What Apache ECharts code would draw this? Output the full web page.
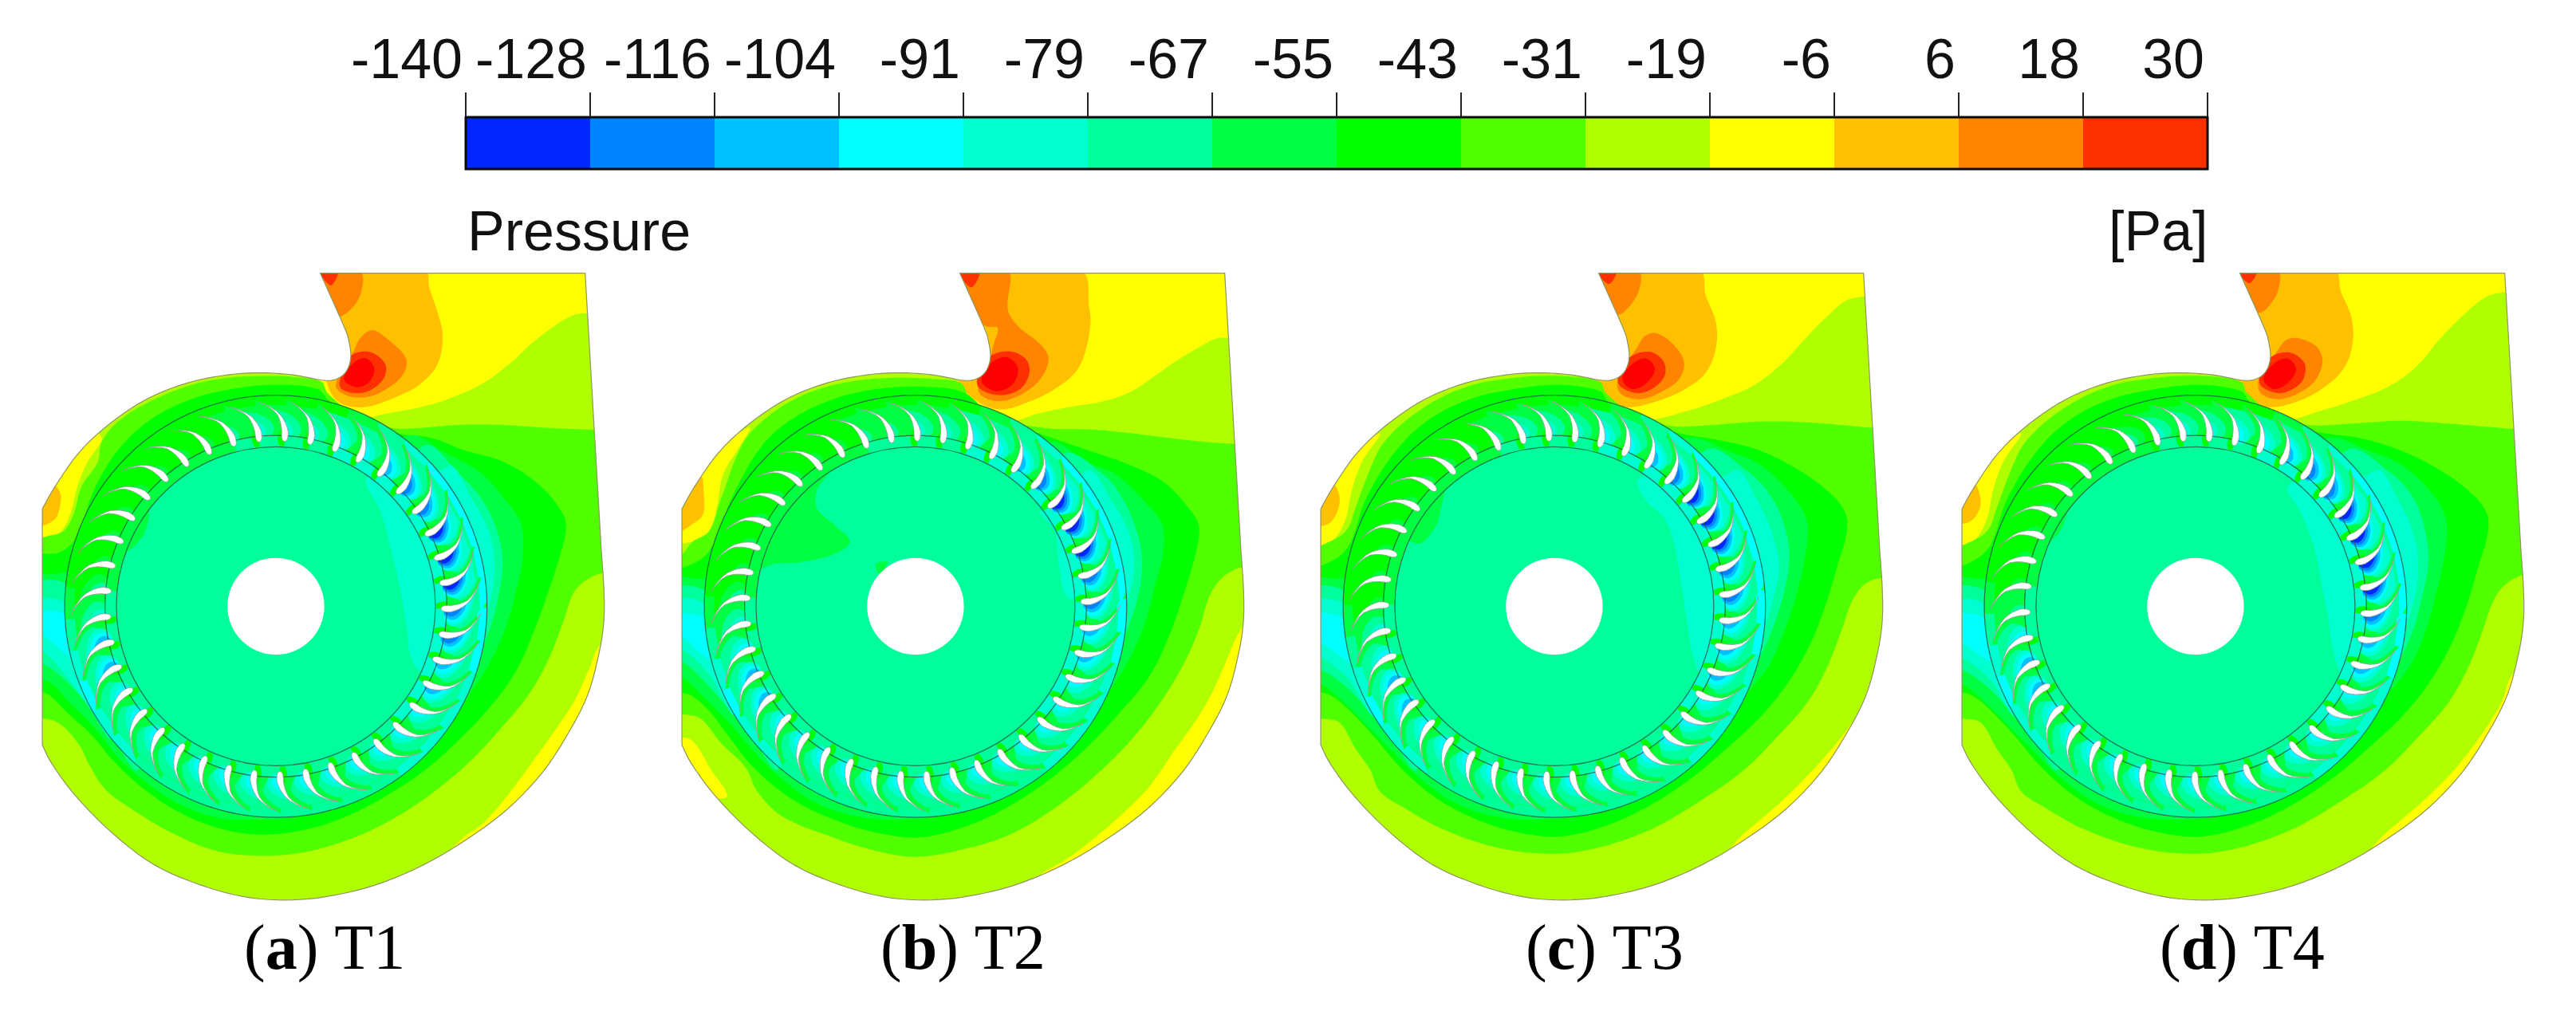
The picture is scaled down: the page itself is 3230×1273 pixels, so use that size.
<!DOCTYPE html>
<html>
<head>
<meta charset="utf-8">
<title>Pressure contours T1-T4</title>
<script src="https://cdn.jsdelivr.net/npm/echarts@6/dist/echarts.min.js"></script>
<style>
html, body { margin: 0; padding: 0; background: #fff; }
#main { width: 3230px; height: 1273px; }
</style>
</head>
<body>
<div id="main"></div>
<script>
// colour scale, one colour per pressure band (last one = core above the top band)
var pressureTicks = ['-140', '-128', '-116', '-104', '-91', '-79', '-67', '-55', '-43', '-31', '-19', '-6', '6', '18', '30'];
var levelColors = ['#0028ff', '#0084ff', '#00c0ff', '#00ffff', '#00ffd0', '#00ff9a', '#00ff40', '#00ff00',
    '#50ff00', '#b0ff00', '#ffff00', '#ffc000', '#ff8400', '#ff3000', '#ff0000'];
var barLevels = [0, 1, 2, 3, 4, 5, 6, 7, 8, 9, 10, 11, 12, 13];

// all geometry below is in picture units of one panel (0..1568 on both axes)
var hubCentre = [678, 824];
var hubRadius = 119;
var ringRadii = [392, 420, 519];

var outletEdge = [[787, 5], [1438, 5]];
var volutePath = [[1478, 690], [1484, 780], [1484, 860], [1472, 940], [1445, 1040], [1400, 1130], [1335, 1230], [1250, 1320],
    [1150, 1395], [1040, 1460], [920, 1510], [800, 1538], [700, 1546], [600, 1538], [490, 1508], [380, 1460], [280, 1385],
    [190, 1295], [130, 1215], [104, 1165]];
var tonguePath = [[104, 585], [135, 530], [195, 445], [270, 375], [360, 315], [460, 275], [560, 255], [640, 250], [720, 255],
    [790, 268], [825, 266], [850, 248], [862, 215], [858, 175], [845, 135], [787, 5]];

// blade shape: radius, sweep in degrees, half thickness
var bladeRadius = [406, 407, 409, 412, 416, 422, 430, 440, 450, 460, 470, 480, 490, 497, 503];
var bladeSweep = [0, 0, 0, 0, 0, 0, 0, 0.3, 0.7, 1.3, 2, 3.2, 4.8, 6, 7.5];
var bladeHalf = [0, 3, 5, 6.5, 7.5, 8, 8, 7.2, 6.2, 5, 3.8, 2.7, 1.6, 0.9, 0.2];
var bladeCount = 41;

// passage levels, blade 0 is the one nearest 3 o'clock, going counter-clockwise
var baseLevels = [6, 6, 6, 6, 6, 6, 6, 6, 6, 6, 6, 6, 6, 7, 7, 7, 7, 7, 7, 7, 7, 6, 6, 6, 6, 6, 6, 6, 6, 6, 6, 6, 6, 6, 6, 6, 6, 6, 6, 6, 6];
var ringLevels = [4, 4, 4, 4, 4, 4, 4, 4, 4, 5, 5, 5, 5, 6, 6, 6, 6, 6, 6, 6, 6, 5, 5, 5, 5, 5, 5, 5, 5, 5, 5, 5, 5, 5, 5, 5, 5, 4, 4, 4, 4];
var rimLevels = [3, 3, 3, 3, 3, 4, 5, 6, 7, 7, 7, 7, 7, 7, 7, 7, 7, 7, 7, 7, 6, 5, 4, 3, 4, 4, 5, 5, 5, 5, 5, 5, 5, 5, 5, 4, 4, 4, 4, 3, 3];

var t1Low = [1, 0, 0, 0, 1, 1, 2, 3, 3, 4, 4, 4, 5, 6, 6, 6, 6, 6, 6, 6, 5, 4, 2, 2, 3, 3, 3, 3, 3, 3, 3, 3, 3, 3, 3, 3, 3, 3, 2, 2, 1];
var t2Low = [1, 1, 0, 0, 0, 1, 2, 3, 3, 4, 4, 5, 5, 6, 6, 6, 6, 6, 6, 6, 5, 4, 3, 2, 2, 3, 3, 3, 3, 3, 3, 3, 3, 3, 3, 3, 3, 3, 3, 2, 2];
var t3Low = [1, 1, 0, 0, 0, 1, 2, 3, 3, 4, 4, 4, 5, 6, 6, 6, 6, 6, 6, 6, 6, 4, 3, 2, 2, 3, 3, 3, 3, 3, 3, 3, 3, 3, 3, 3, 3, 3, 2, 2, 2];
var t4Low = [1, 0, 0, 0, 0, 1, 1, 2, 3, 3, 4, 4, 4, 5, 6, 6, 6, 6, 6, 6, 6, 5, 3, 2, 2, 3, 3, 3, 3, 3, 3, 3, 3, 3, 3, 3, 3, 3, 3, 2, 2];

// contour bands of the volute, painted in this order
var t1Bands = [
    [10, [[1500, 0], [1500, 100], [1420, 105], [1370, 130], [1310, 175], [1250, 230], [1180, 280], [1100, 315], [1030, 335], [950, 350], [890, 360], [830, 330], [780, 260], [780, 0]]],
    [11, [[1045, 0], [1055, 40], [1075, 100], [1088, 160], [1075, 230], [1030, 280], [960, 315], [890, 335], [830, 320], [800, 260], [780, 0]]],
    [12, [[790, 0], [885, 0], [885, 60], [850, 105], [820, 110], [790, 40]]],
    [12, [[870, 195], [885, 165], [915, 145], [950, 165], [998, 215], [990, 255], [950, 290], [900, 310], [850, 305], [825, 280]]],
    [13, [[835, 270], [860, 210], [905, 198], [945, 225], [945, 260], [915, 290], [880, 300], [840, 290]]],
    [14, [[845, 265], [870, 225], [900, 215], [920, 240], [905, 275], [875, 285]]],
    [13, [[785, 0], [830, 0], [815, 35], [800, 25]]],
    [10, [[95, 575], [135, 525], [195, 445], [240, 400], [250, 415], [215, 470], [190, 530], [175, 590], [150, 640], [120, 650], [95, 655]]],
    [11, [[95, 575], [130, 525], [148, 545], [148, 575], [135, 610], [95, 625]]],
    [10, [[1500, 900], [1470, 925], [1445, 985], [1410, 1060], [1370, 1120], [1320, 1190], [1250, 1285], [1190, 1355], [1130, 1400], [1100, 1440], [1300, 1400], [1500, 1100]]],
    [8, [[960, 385], [1040, 385], [1130, 378], [1230, 378], [1340, 385], [1460, 390], [1500, 390], [1500, 745], [1480, 742], [1440, 760], [1410, 790], [1385, 860], [1350, 950], [1300, 1040], [1230, 1125], [1150, 1210], [1060, 1285], [960, 1350], [850, 1400], [740, 1430], [640, 1437], [530, 1425], [420, 1380], [320, 1320], [260, 1275], [220, 1215], [195, 1165], [150, 1115], [110, 1100], [60, 1105], [60, 670], [104, 655], [155, 640], [180, 600], [200, 530], [240, 470], [250, 420], [290, 370], [370, 320], [470, 280], [560, 262], [640, 258], [720, 260], [790, 272], [805, 300], [870, 350]]],
    [7, [[980, 400], [1060, 410], [1140, 440], [1240, 470], [1330, 530], [1385, 600], [1390, 640], [1370, 720], [1340, 810], [1310, 890], [1270, 980], [1210, 1065], [1130, 1150], [1040, 1230], [940, 1295], [840, 1345], [740, 1375], [640, 1385], [540, 1370], [440, 1330], [350, 1270], [280, 1205], [225, 1140], [170, 1090], [125, 1045], [104, 1035], [60, 1030], [60, 690], [104, 695], [150, 690], [190, 650], [230, 540], [290, 440], [370, 365], [470, 315], [570, 290], [680, 280], [780, 290], [810, 320], [890, 370]]],
    [6, [[1000, 405], [1100, 450], [1180, 495], [1240, 560], [1280, 620], [1285, 700], [1270, 780], [1245, 870], [1205, 960], [1150, 1045], [1080, 1125], [1000, 1195], [900, 1265], [800, 1315], [700, 1345], [640, 1348], [540, 1345], [440, 1310], [350, 1250], [290, 1195], [230, 1120], [170, 1060], [120, 1010], [60, 1000], [60, 755], [130, 745], [160, 740], [300, 700], [700, 600]]],
    [5, [[1040, 430], [1130, 500], [1190, 570], [1225, 650], [1235, 720], [1225, 800], [1200, 890], [1160, 975], [1100, 1060], [1030, 1130], [950, 1195], [860, 1260], [760, 1320], [700, 1000], [800, 700]]],
    [5, [[60, 780], [165, 770], [400, 1000], [340, 1225], [280, 1150], [230, 1085], [170, 1015], [104, 965], [60, 965]]],
    [4, [[1100, 480], [1160, 560], [1205, 650], [1215, 730], [1205, 810], [1175, 900], [1130, 990], [1075, 1060], [1020, 1120], [900, 1000], [900, 700]]],
    [4, [[60, 815], [150, 810], [300, 900], [280, 1150], [210, 1060], [150, 980], [104, 935], [60, 935]]],
    [3, [[60, 850], [155, 840], [170, 900], [190, 960], [160, 940], [104, 895], [60, 895]]]
];
var t2Bands = [
    [10, [[1500, 0], [1500, 160], [1420, 165], [1370, 190], [1320, 220], [1270, 255], [1210, 295], [1140, 320], [1050, 335], [980, 350], [900, 370], [830, 330], [780, 260], [780, 0]]],
    [11, [[1085, 0], [1105, 90], [1108, 130], [1095, 200], [1070, 250], [1020, 290], [960, 320], [890, 340], [830, 320], [780, 260], [780, 0]]],
    [12, [[790, 0], [905, 0], [905, 95], [930, 135], [985, 180], [1005, 215], [985, 265], [935, 305], [880, 320], [835, 300], [838, 255], [862, 210], [870, 180], [880, 140], [850, 135], [820, 100]]],
    [13, [[830, 280], [855, 215], [905, 197], [948, 215], [958, 250], [935, 290], [880, 305]]],
    [14, [[840, 270], [865, 225], [905, 212], [930, 240], [915, 280], [875, 295]]],
    [13, [[785, 0], [835, 0], [815, 40]]],
    [10, [[95, 580], [150, 490], [210, 425], [270, 385], [240, 440], [205, 500], [190, 580], [170, 650], [130, 665], [95, 665]]],
    [11, [[95, 580], [150, 505], [158, 550], [155, 600], [125, 625], [95, 640]]],
    [10, [[95, 1150], [130, 1155], [175, 1225], [215, 1290], [170, 1290], [95, 1200]]],
    [10, [[1500, 870], [1478, 880], [1445, 950], [1410, 1030], [1370, 1100], [1320, 1170], [1250, 1270], [1180, 1340], [1110, 1400], [1050, 1445], [980, 1488], [960, 1530], [1300, 1500], [1500, 1200]]],
    [8, [[990, 385], [1120, 390], [1220, 400], [1340, 415], [1460, 425], [1500, 425], [1500, 725], [1470, 730], [1430, 755], [1400, 800], [1375, 880], [1340, 960], [1280, 1060], [1210, 1150], [1120, 1240], [1020, 1320], [910, 1385], [800, 1420], [680, 1440], [580, 1425], [470, 1390], [350, 1340], [290, 1280], [260, 1220], [200, 1160], [150, 1100], [104, 1090], [60, 1090], [60, 700], [104, 695], [130, 665], [170, 640], [200, 560], [250, 430], [300, 370], [390, 310], [500, 275], [620, 262], [720, 265], [790, 275], [810, 310], [880, 360]]],
    [7, [[1000, 405], [1100, 440], [1200, 475], [1290, 520], [1355, 590], [1375, 630], [1365, 700], [1335, 800], [1300, 900], [1250, 1000], [1180, 1085], [1100, 1170], [1000, 1255], [900, 1320], [800, 1365], [690, 1392], [580, 1380], [470, 1345], [370, 1295], [280, 1220], [220, 1145], [170, 1080], [120, 1040], [60, 1030], [60, 730], [104, 730], [170, 690], [230, 550], [300, 430], [380, 360], [490, 310], [600, 288], [720, 285], [800, 300], [870, 360]]],
    [6, [[1010, 420], [1100, 470], [1170, 500], [1240, 565], [1285, 625], [1285, 700], [1265, 780], [1240, 870], [1200, 960], [1140, 1050], [1070, 1130], [980, 1210], [880, 1280], [770, 1330], [660, 1348], [530, 1340], [430, 1305], [340, 1240], [280, 1180], [220, 1110], [160, 1050], [104, 1000], [60, 1000], [60, 760], [160, 755], [400, 700], [800, 500]]],
    [5, [[1040, 450], [1140, 500], [1190, 565], [1225, 650], [1235, 720], [1225, 800], [1195, 890], [1150, 980], [1090, 1060], [1020, 1130], [900, 1225], [760, 1320], [700, 1000], [800, 700]]],
    [5, [[60, 790], [160, 785], [400, 1000], [340, 1225], [280, 1150], [225, 1085], [170, 1020], [104, 960], [60, 960]]],
    [4, [[1100, 490], [1160, 565], [1205, 650], [1215, 730], [1200, 810], [1170, 900], [1125, 990], [1075, 1060], [900, 1000], [900, 700]]],
    [4, [[60, 815], [155, 815], [300, 950], [240, 1095], [170, 990], [104, 930], [60, 930]]],
    [3, [[60, 850], [155, 850], [170, 900], [190, 960], [150, 940], [104, 900], [60, 900]]]
];
var t3Bands = [
    [10, [[1500, 0], [1500, 50], [1400, 70], [1350, 110], [1300, 160], [1240, 225], [1170, 280], [1090, 315], [1000, 345], [900, 365], [830, 330], [780, 260], [780, 0]]],
    [11, [[1035, 0], [1050, 60], [1075, 125], [1075, 190], [1050, 250], [1000, 290], [930, 320], [860, 335], [820, 320], [780, 260], [780, 0]]],
    [12, [[790, 0], [885, 0], [885, 50], [850, 100], [825, 105]]],
    [12, [[880, 190], [900, 160], [930, 153], [975, 185], [997, 225], [985, 265], [945, 295], [890, 315], [840, 300], [835, 260]]],
    [13, [[835, 275], [860, 215], [910, 198], [945, 220], [950, 255], [925, 285], [880, 300]]],
    [14, [[845, 265], [870, 228], [905, 215], [925, 240], [905, 275], [870, 290]]],
    [13, [[785, 0], [830, 0], [812, 32]]],
    [10, [[95, 575], [140, 500], [210, 425], [250, 400], [205, 470], [180, 540], [165, 610], [135, 660], [95, 670]]],
    [11, [[95, 580], [135, 525], [150, 555], [145, 590], [125, 620], [95, 625]]],
    [10, [[1500, 1000], [1455, 1030], [1430, 1080], [1380, 1150], [1310, 1230], [1240, 1300], [1180, 1352], [1125, 1402], [1100, 1445], [1300, 1400], [1500, 1200]]],
    [8, [[960, 380], [1040, 380], [1180, 370], [1300, 372], [1460, 385], [1500, 385], [1500, 755], [1475, 755], [1440, 770], [1410, 810], [1385, 880], [1350, 970], [1300, 1060], [1230, 1140], [1140, 1230], [1040, 1300], [940, 1360], [830, 1405], [720, 1430], [620, 1430], [510, 1410], [400, 1370], [310, 1320], [250, 1280], [225, 1225], [190, 1175], [150, 1110], [104, 1100], [60, 1100], [60, 690], [104, 675], [165, 640], [190, 580], [220, 500], [260, 420], [350, 340], [460, 285], [580, 262], [700, 258], [790, 272], [805, 300], [870, 350]]],
    [7, [[990, 400], [1080, 415], [1180, 440], [1280, 490], [1360, 550], [1395, 600], [1395, 650], [1375, 720], [1345, 820], [1310, 910], [1260, 1000], [1190, 1090], [1100, 1175], [1010, 1250], [910, 1315], [800, 1365], [690, 1390], [590, 1380], [480, 1345], [380, 1290], [300, 1220], [240, 1150], [190, 1095], [140, 1050], [104, 1035], [60, 1035], [60, 725], [104, 725], [170, 680], [215, 560], [290, 440], [370, 365], [470, 315], [580, 290], [690, 280], [790, 295], [810, 320], [890, 370]]],
    [6, [[1005, 410], [1100, 440], [1190, 480], [1270, 560], [1300, 620], [1295, 700], [1275, 790], [1245, 880], [1205, 970], [1140, 1050], [1070, 1130], [980, 1210], [880, 1280], [770, 1330], [660, 1348], [530, 1340], [430, 1305], [340, 1240], [280, 1180], [220, 1120], [160, 1060], [104, 1015], [60, 1010], [60, 760], [160, 755], [400, 700], [800, 500]]],
    [5, [[1050, 440], [1150, 490], [1215, 560], [1250, 650], [1255, 720], [1240, 800], [1210, 890], [1165, 980], [1100, 1060], [1030, 1130], [900, 1225], [760, 1320], [700, 1000], [800, 700]]],
    [5, [[60, 790], [160, 785], [400, 1000], [340, 1225], [280, 1150], [225, 1085], [170, 1025], [104, 980], [60, 975]]],
    [4, [[1120, 490], [1175, 560], [1215, 650], [1230, 730], [1215, 810], [1185, 900], [1135, 990], [1080, 1060], [900, 1000], [900, 700]]],
    [4, [[60, 820], [155, 815], [300, 950], [240, 1095], [170, 1000], [104, 950], [60, 945]]],
    [3, [[60, 850], [155, 850], [170, 905], [190, 965], [150, 945], [104, 915], [60, 915]]]
];
var t4Bands = [
    [10, [[1500, 0], [1500, 40], [1400, 60], [1340, 105], [1280, 165], [1220, 235], [1150, 285], [1060, 320], [980, 345], [900, 365], [830, 330], [780, 260], [780, 0]]],
    [11, [[1020, 0], [1035, 50], [1060, 110], [1065, 170], [1045, 235], [995, 285], [930, 320], [860, 335], [820, 320], [780, 260], [780, 0]]],
    [12, [[790, 0], [880, 0], [880, 50], [850, 95], [830, 100]]],
    [12, [[880, 195], [900, 170], [930, 165], [975, 185], [990, 220], [975, 265], [940, 295], [885, 315], [838, 300], [835, 260]]],
    [13, [[835, 275], [860, 215], [908, 200], [945, 225], [945, 260], [925, 285], [880, 300]]],
    [14, [[845, 265], [870, 228], [905, 215], [925, 240], [905, 275], [870, 290]]],
    [13, [[785, 0], [828, 0], [810, 30]]],
    [10, [[95, 575], [140, 500], [210, 425], [250, 400], [205, 470], [180, 540], [165, 610], [135, 660], [95, 670]]],
    [11, [[95, 585], [135, 525], [150, 560], [145, 590], [125, 615], [95, 620]]],
    [10, [[1500, 980], [1458, 990], [1430, 1060], [1380, 1140], [1310, 1230], [1240, 1300], [1180, 1352], [1125, 1402], [1100, 1445], [1300, 1420], [1500, 1200]]],
    [8, [[950, 378], [1060, 375], [1180, 368], [1300, 375], [1460, 388], [1500, 388], [1500, 750], [1478, 748], [1440, 770], [1410, 810], [1385, 880], [1350, 970], [1300, 1060], [1230, 1140], [1140, 1230], [1040, 1300], [940, 1360], [830, 1405], [720, 1430], [620, 1430], [510, 1410], [400, 1370], [310, 1320], [250, 1280], [225, 1225], [190, 1175], [150, 1110], [104, 1100], [60, 1100], [60, 690], [104, 675], [165, 640], [190, 580], [220, 500], [260, 420], [350, 340], [460, 285], [580, 262], [700, 258], [790, 272], [805, 300], [870, 350]]],
    [7, [[990, 398], [1080, 410], [1180, 440], [1280, 490], [1360, 550], [1395, 600], [1395, 650], [1375, 720], [1345, 820], [1310, 910], [1260, 1000], [1190, 1090], [1100, 1175], [1010, 1250], [910, 1315], [800, 1365], [690, 1390], [590, 1380], [480, 1345], [380, 1290], [300, 1220], [240, 1150], [190, 1095], [140, 1050], [104, 1035], [60, 1035], [60, 725], [104, 725], [170, 680], [215, 560], [290, 440], [370, 365], [470, 315], [580, 290], [690, 280], [790, 295], [810, 320], [890, 370]]],
    [6, [[1005, 410], [1100, 440], [1190, 480], [1270, 560], [1295, 620], [1290, 700], [1270, 790], [1245, 880], [1205, 970], [1140, 1050], [1070, 1130], [980, 1210], [880, 1280], [770, 1330], [660, 1348], [530, 1340], [430, 1305], [340, 1240], [280, 1180], [220, 1120], [160, 1060], [104, 1015], [60, 1010], [60, 760], [160, 755], [400, 700], [800, 500]]],
    [5, [[1050, 440], [1150, 490], [1215, 560], [1245, 650], [1250, 720], [1235, 800], [1210, 890], [1165, 980], [1100, 1060], [1030, 1130], [900, 1225], [760, 1320], [700, 1000], [800, 700]]],
    [5, [[60, 790], [160, 785], [400, 1000], [340, 1225], [280, 1150], [225, 1085], [170, 1025], [104, 980], [60, 975]]],
    [4, [[1120, 490], [1175, 560], [1215, 650], [1225, 730], [1215, 810], [1185, 900], [1135, 990], [1080, 1060], [900, 1000], [900, 700]]],
    [4, [[60, 820], [155, 815], [300, 950], [240, 1095], [170, 1000], [104, 950], [60, 945]]],
    [3, [[60, 850], [155, 850], [170, 905], [190, 965], [150, 945], [104, 915], [60, 915]]]
];

// patches inside the rotor eye
var t1Eye = [
    [6, [[300, 690], [345, 660], [365, 610], [370, 560], [420, 500], [470, 460], [350, 480], [260, 600]]],
    [4, [[900, 510], [935, 590], [960, 680], [985, 790], [1000, 880], [1010, 950], [1040, 985], [1150, 900], [1150, 700], [1000, 500]]]
];
var t2Eye = [
    [6, [[470, 480], [435, 540], [437, 585], [480, 625], [517, 665], [480, 695], [400, 715], [330, 720], [285, 730], [260, 600], [350, 480]]],
    [6, [[580, 720], [610, 715], [590, 745]]],
    [4, [[985, 590], [1020, 640], [1030, 720], [1050, 800], [1100, 800], [1100, 600]]]
];
var t3Eye = [
    [6, [[340, 670], [385, 630], [400, 580], [420, 510], [470, 460], [350, 480], [260, 600]]],
    [4, [[885, 510], [900, 560], [950, 610], [975, 680], [990, 770], [1005, 870], [1020, 950], [1040, 985], [1150, 900], [1150, 700], [1000, 500]]]
];
var t4Eye = [
    [6, [[310, 665], [345, 640], [365, 590], [420, 510], [470, 460], [350, 480], [260, 600]]],
    [4, [[905, 530], [935, 590], [970, 680], [990, 780], [1005, 860], [1020, 950], [1040, 985], [1150, 900], [1150, 700], [1000, 500]]]
];

var panelLeft = [0, 802, 1603, 2407];
var panelBands = [t1Bands, t2Bands, t3Bands, t4Bands];
var panelEye = [t1Eye, t2Eye, t3Eye, t4Eye];
var panelLow = [t1Low, t2Low, t3Low, t4Low];
var panelRotor = [-0.8, 1.6, 4, -2.4];   // angle of blade 0, degrees
var captionLetter = ['a', 'b', 'c', 'd'];
var captionName = ['T1', 'T2', 'T3', 'T4'];
var captionLeft = [306, 1104, 1913, 2708];

// smooth path through read points
function catmull(pts, n) {
    var out = [];
    for (var i = 0; i < pts.length - 1; i++) {
        var p0 = pts[Math.max(i - 1, 0)], p1 = pts[i], p2 = pts[i + 1], p3 = pts[Math.min(i + 2, pts.length - 1)];
        for (var j = 0; j < n; j++) {
            var t = j / n, t2 = t * t, t3 = t2 * t;
            out.push([0, 1].map(function (d) {
                return 0.5 * (2 * p1[d] + (p2[d] - p0[d]) * t + (2 * p0[d] - 5 * p1[d] + 4 * p2[d] - p3[d]) * t2 + (3 * p1[d] - p0[d] - 3 * p2[d] + p3[d]) * t3);
            }));
        }
    }
    out.push(pts[pts.length - 1]);
    return out;
}
var outline = outletEdge.concat(catmull(volutePath, 5), catmull(tonguePath, 5));

function polar(r, deg) {
    var a = deg * Math.PI / 180;
    return [hubCentre[0] + r * Math.cos(a), hubCentre[1] - r * Math.sin(a)];
}
function lookup(xs, ys, x) {
    for (var i = 1; i < xs.length; i++) {
        if (x <= xs[i]) {
            return ys[i - 1] + (ys[i] - ys[i - 1]) * (x - xs[i - 1]) / (xs[i] - xs[i - 1]);
        }
    }
    return ys[ys.length - 1];
}
function sweep(r) {
    if (r > 503) {
        return 7.5 + (r - 503) * 0.22;
    }
    return lookup(bladeRadius, bladeSweep, Math.max(r, 406));
}

// the rotor painted back to front: eye, passages, low pressure lobes, streaks
function rotorPieces(theta0, low, eye) {
    var pieces = [];
    var step = 360 / bladeCount;
    var disc = [];
    for (var a = 0; a < 360; a += 3) {
        disc.push(polar(ringRadii[0] + 1, a));
    }
    pieces.push([5, disc, 0]);
    eye.forEach(function (e) { pieces.push([e[0], e[1], 0.35]); });
    var k, i;
    for (k = 0; k < bladeCount; k++) {
        var th = theta0 + k * step;
        var ringSector = [];
        for (i = 0; i <= 3; i++) { ringSector.push(polar(ringRadii[0], th + 0.2 - i * (step + 0.4) / 3)); }
        for (i = 3; i >= 0; i--) { ringSector.push(polar(ringRadii[1] + 1, th + 0.2 - i * (step + 0.4) / 3)); }
        pieces.push([ringLevels[k], ringSector, 0]);

        var front = [], back = [];
        for (i = 0; i <= 10; i++) {
            var r = ringRadii[1] + (ringRadii[2] - ringRadii[1]) * i / 10;
            front.push(polar(r, th + 0.2 + sweep(r)));
            back.unshift(polar(r, th - step - 0.2 + sweep(r)));
        }
        pieces.push([baseLevels[k], front.concat(back), 0]);

        var rim = [];
        for (i = 0; i <= 3; i++) { rim.push(polar(ringRadii[2], th + 9 + 0.2 - i * (step + 0.4) / 3)); }
        for (i = 3; i >= 0; i--) { rim.push(polar(495, th + 9 + 0.2 - i * (step + 0.4) / 3)); }
        pieces.push([rimLevels[k], rim, 0]);
    }
    for (k = 0; k < bladeCount; k++) {
        var thk = theta0 + k * step;
        var b = baseLevels[k], l = low[k];
        for (var lv = b - 1; lv >= l; lv--) {
            var t = (b - lv) / (b - l);
            var r0 = 408 + 6 * t, r1 = 512 - 52 * t, fw = 0.95 - 0.65 * t;
            var edge = [], lobe = [];
            for (i = 0; i <= 8; i++) {
                var u = i / 8, rr = r0 + (r1 - r0) * u;
                var w = t < 0.4 ? Math.min(1, 0.4 + 1.2 * u) : Math.pow(Math.sin(Math.PI * (0.12 + 0.88 * u)), 0.6);
                edge.push(polar(rr, thk + sweep(rr)));
                lobe.unshift(polar(rr, thk + sweep(rr) - fw * w * step));
            }
            pieces.push([lv, edge.concat(lobe), 0]);
        }
    }
    for (k = 0; k < bladeCount; k++) {
        if (low[k] <= 4) {
            var ths = theta0 + k * step, st = [], sb = [];
            for (i = 0; i <= 6; i++) {
                var rs = 394 + 54 * i / 6;
                st.push(polar(rs, ths + sweep(rs)));
                sb.unshift(polar(rs, ths + sweep(rs) + 0.28 * step * Math.sin(Math.PI * (0.25 + 0.75 * i / 6))));
            }
            pieces.push([7, st.concat(sb), 0]);
        }
    }
    return pieces;
}

function bladeOutline(th) {
    var top = [], bottom = [];
    bladeRadius.forEach(function (r, i) {
        var d = bladeHalf[i] / r * 180 / Math.PI;
        top.push(polar(r, th + bladeSweep[i] + d));
        bottom.unshift(polar(r, th + bladeSweep[i] - d));
    });
    return top.concat(bottom);
}

function toPixels(api, pts) {
    return pts.map(function (p) { return api.coord(p); });
}

var grids = [], xAxes = [], yAxes = [], series = [], titles = [];

// colour bar
var tickTop = 1.477;
grids.push({ left: 584, top: 147, width: 2184, height: 65 });
xAxes.push({
    type: 'category', gridIndex: 0, position: 'top', boundaryGap: false, data: pressureTicks,
    axisLine: { show: false },
    axisTick: { show: false },
    axisLabel: {
        show: true, interval: 0, hideOverlap: false, align: 'right', margin: 33, padding: [0, 4, 0, 0],
        fontFamily: 'Liberation Sans', fontSize: 70, color: '#111'
    }
});
yAxes.push({ type: 'value', gridIndex: 0, min: 0, max: 1, show: false });
series.push({
    type: 'custom', name: 'Pressure', xAxisIndex: 0, yAxisIndex: 0, silent: true, animation: false, clip: false, z: 5,
    data: barLevels.concat([-1]),
    renderItem: function (params, api) {
        var level = barLevels[params.dataIndex];
        if (level === undefined) {
            var a0 = api.coord([0, 1]), b0 = api.coord([barLevels.length, 0]);
            var kids = [{ type: 'rect', shape: { x: a0[0], y: a0[1], width: b0[0] - a0[0], height: b0[1] - a0[1] }, style: { fill: 'none', stroke: '#0a0a0a', lineWidth: 3 } }];
            pressureTicks.forEach(function (label, i) {
                var p0 = api.coord([i, 1]), p1 = api.coord([i, tickTop]);
                kids.push({ type: 'line', shape: { x1: p0[0], y1: p0[1], x2: p1[0], y2: p1[1] }, style: { stroke: '#222', lineWidth: 2 } });
            });
            return { type: 'group', children: kids };
        }
        var a = api.coord([params.dataIndex, 1]), b = api.coord([params.dataIndex + 1, 0]);
        return { type: 'rect', shape: { x: a[0], y: a[1], width: b[0] - a[0], height: b[1] - a[1] }, style: { fill: levelColors[level] } };
    }
});

titles.push({ text: 'Pressure', left: 586, top: 260, padding: 0, textStyle: { fontFamily: 'Liberation Sans', fontSize: 70, fontWeight: 'normal', color: '#111' } });
titles.push({ text: '[Pa]', left: 2644, top: 260, padding: 0, textStyle: { fontFamily: 'Liberation Sans', fontSize: 70, fontWeight: 'normal', color: '#111' } });

panelLeft.forEach(function (left, p) {
    var idx = p + 1;
    grids.push({ left: left, top: 340, width: 800, height: 800 });
    xAxes.push({ type: 'value', gridIndex: idx, min: 0, max: 1568, show: false });
    yAxes.push({ type: 'value', gridIndex: idx, min: 0, max: 1568, inverse: true, show: false });

    var bands = [[9, outline]].concat(panelBands[p]);
    var pieces = rotorPieces(panelRotor[p], panelLow[p], panelEye[p]);
    var common = { type: 'custom', xAxisIndex: idx, yAxisIndex: idx, silent: true, animation: false, clip: false, progressive: 0 };

    series.push(Object.assign({}, common, {
        name: captionName[p] + ' volute', z: 2,
        data: bands.map(function (b, i) { return [i, b[0]]; }),
        renderItem: function (params, api) {
            var band = bands[params.dataIndex];
            var clip = toPixels(api, outline);
            return {
                type: 'polygon',
                shape: { points: toPixels(api, band[1]), smooth: params.dataIndex === 0 ? 0 : 0.35 },
                style: { fill: levelColors[band[0]] },
                clipPath: { type: 'polygon', shape: { points: clip } }
            };
        }
    }));
    series.push(Object.assign({}, common, {
        name: captionName[p] + ' rotor', z: 3,
        data: pieces.map(function (b, i) { return [i, b[0]]; }),
        renderItem: function (params, api) {
            var piece = pieces[params.dataIndex];
            return {
                type: 'polygon',
                shape: { points: toPixels(api, piece[1]), smooth: piece[2] },
                style: { fill: levelColors[piece[0]] }
            };
        }
    }));
    series.push(Object.assign({}, common, {
        name: captionName[p] + ' lines', z: 4,
        data: [0],
        renderItem: function (params, api) {
            var c = api.coord(hubCentre);
            var children = ringRadii.map(function (r) {
                return {
                    type: 'circle', shape: { cx: c[0], cy: c[1], r: api.size([r, 0])[0] },
                    style: { fill: 'none', stroke: '#23614a', lineWidth: 1.3, opacity: 0.85 }
                };
            });
            for (var k = 0; k < bladeCount; k++) {
                children.push({
                    type: 'polygon',
                    shape: { points: toPixels(api, bladeOutline(panelRotor[p] + k * 360 / bladeCount)) },
                    style: { fill: '#fff', stroke: '#999', lineWidth: 0.8 }
                });
            }
            children.push({
                type: 'circle', shape: { cx: c[0], cy: c[1], r: api.size([hubRadius, 0])[0] },
                style: { fill: '#fff' }
            });
            children.push({
                type: 'polygon', shape: { points: toPixels(api, outline) },
                style: { fill: 'none', stroke: '#8f9460', lineWidth: 1.2 }
            });
            return { type: 'group', children: children };
        }
    }));

    titles.push({
        text: '({b|' + captionLetter[p] + '}) ' + captionName[p], left: captionLeft[p], top: 1154, padding: 0,
        textStyle: {
            fontFamily: 'Liberation Serif', fontSize: 80, fontWeight: 'normal', color: '#000',
            rich: { b: { fontFamily: 'Liberation Serif', fontSize: 80, fontWeight: 'bold', color: '#000' } }
        }
    });
});

var chart = echarts.init(document.getElementById('main'), null, { renderer: 'canvas' });
chart.setOption({
    backgroundColor: '#fff',
    animation: false,
    title: titles,
    grid: grids,
    xAxis: xAxes,
    yAxis: yAxes,
    series: series
});
</script>
</body>
</html>
